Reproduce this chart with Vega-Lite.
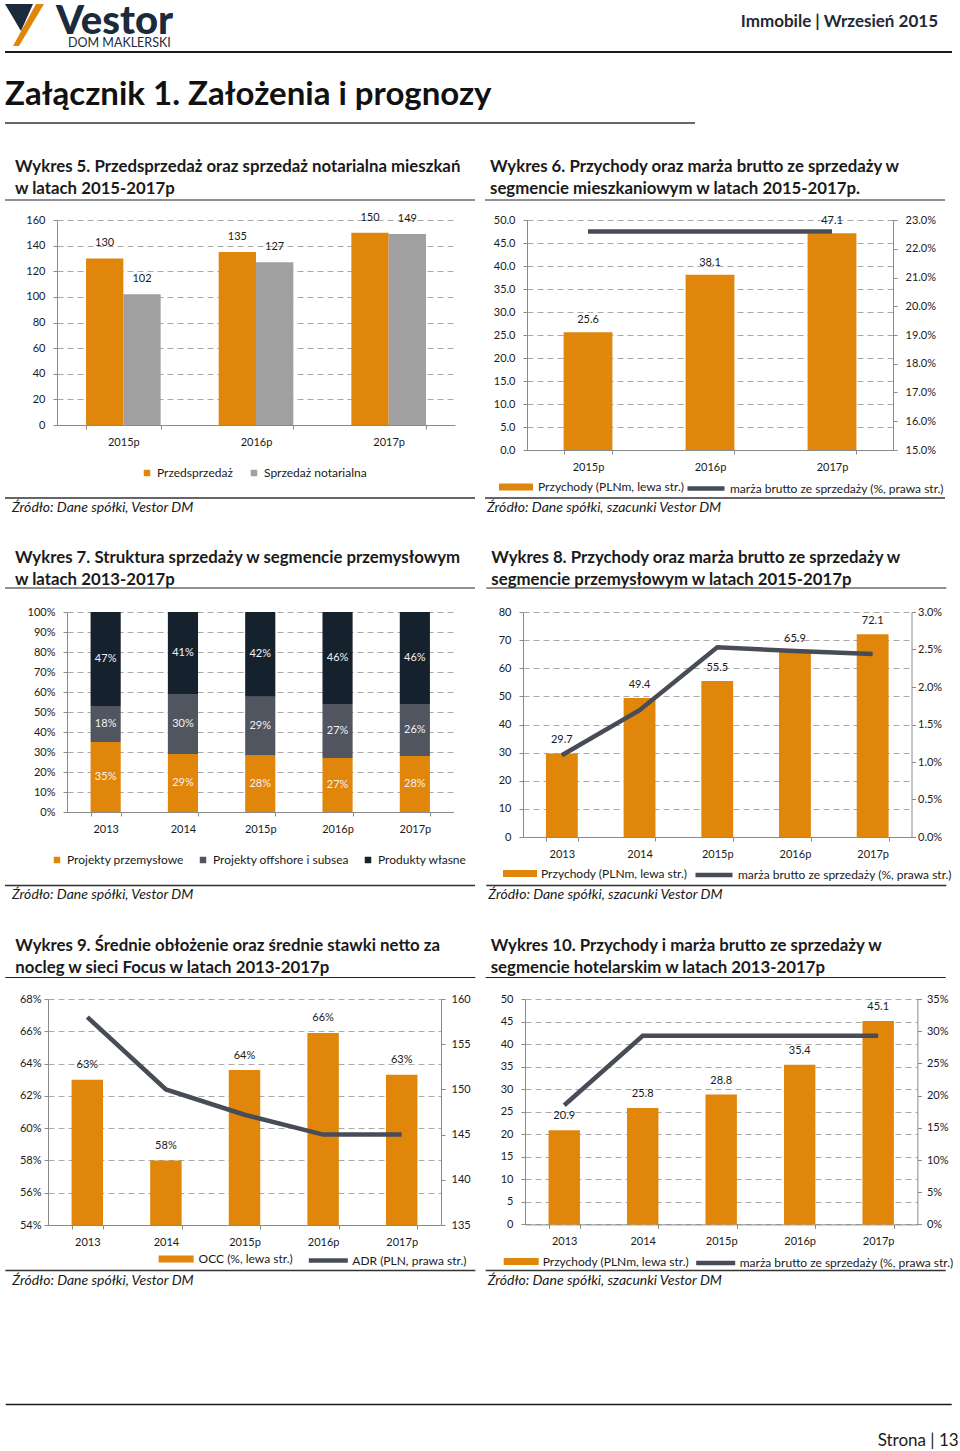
{
"$schema": "https://vega.github.io/schema/vega-lite/v6.json",
"background": "white",
"padding": 0,
"autosize": {"type": "pad"},
"config": {
 "view": {"stroke": null},
 "font": "Lato",
 "axis": {"labelFont": "Lato", "labelFontSize": 11, "labelColor": "#1a1a1a", "domainColor": "#8a8a8a", "tickColor": "#8a8a8a", "tickSize": 4, "gridColor": "#a8a8a8", "gridDash": [6, 4], "labelOverlap": false},
 "axisX": {"labelAngle": 0, "tickBand": "extent", "labelPadding": 7, "grid": false},
 "axisY": {"labelPadding": 8, "tickCount": 50},
 "legend": {"labelFont": "Lato", "labelFontSize": 12, "labelColor": "#1a1a1a", "padding": 0, "labelLimit": 400},
 "title": {"font": "Lato", "fontWeight": "bold", "fontSize": 16.8, "anchor": "start", "frame": "group", "color": "#1a1a1a", "lineHeight": 22, "offset": 3},
 "text": {"font": "Lato"}
},
"resolve": {"scale": {"x": "independent", "y": "independent", "color": "independent", "stroke": "independent", "xOffset": "independent"}, "legend": {"color": "independent", "stroke": "independent"}, "axis": {"x": "independent", "y": "independent"}},
"vconcat": [
 {
  "width": 960, "height": 57.5,
  "data": {"values": [{}]},
  "layer": [
   {"mark": {"type": "point", "shape": "M-0.957,-0.913L0.261,-0.913L-0.261,0.261Z", "size": 2116, "filled": true, "fill": "#1B2B3C", "strokeWidth": 0, "opacity": 1}, "encoding": {"x": {"value": 27}, "y": {"value": 25}}},
   {"mark": {"type": "point", "shape": "M0.391,-0.913L0.739,-0.913L-0.348,0.913L-0.609,0.913Z", "size": 2116, "filled": true, "fill": "#E0860B", "strokeWidth": 0, "opacity": 1}, "encoding": {"x": {"value": 27}, "y": {"value": 25}}},
   {"mark": {"type": "text", "text": "Vestor", "fontWeight": 900, "fontSize": 40, "color": "#1B2B3C", "align": "left", "baseline": "alphabetic"}, "encoding": {"x": {"value": 56}, "y": {"value": 34}}},
   {"mark": {"type": "text", "text": "DOM MAKLERSKI", "fontSize": 12.5, "color": "#1B2B3C", "align": "left", "baseline": "alphabetic"}, "encoding": {"x": {"value": 68}, "y": {"value": 47}}},
   {"mark": {"type": "text", "text": "Immobile | Wrzesień 2015", "fontWeight": "bold", "fontSize": 17, "color": "#1F2A36", "align": "right", "baseline": "middle"}, "encoding": {"x": {"value": 938}, "y": {"value": 22}}},
   {"mark": {"type": "rule", "color": "#1a1a1a", "strokeWidth": 2.2}, "encoding": {"x": {"value": 5}, "x2": {"value": 952}, "y": {"value": 52}}},
   {"mark": {"type": "text", "text": "Załącznik 1. Założenia i prognozy", "fontWeight": "bold", "fontSize": 33, "color": "#111111", "align": "left", "baseline": "middle"}, "encoding": {"x": {"value": 5}, "y": {"value": 95}}},
   {"mark": {"type": "rule", "color": "#333333", "strokeWidth": 1.5}, "encoding": {"x": {"value": 5}, "x2": {"value": 695}, "y": {"value": 123}}}
  ]
 },
 {"width": 1, "height": 162, "data": {"values": []}, "mark": "point"},
 {
  "hconcat": [
   {"width": 57, "height": 230, "data": {"values": []}, "mark": "point"},
   {
    "width": 398, "height": 205,
    "title": {"text": ["Wykres 5. Przedsprzedaż oraz sprzedaż notarialna mieszkań", "w latach 2015-2017p"], "dx": -42, "dy": 1},
    "data": {"values": [
     {"rok": "2015p", "seria": "Przedsprzedaż", "wartosc": 130},
     {"rok": "2015p", "seria": "Sprzedaż notarialna", "wartosc": 102},
     {"rok": "2016p", "seria": "Przedsprzedaż", "wartosc": 135},
     {"rok": "2016p", "seria": "Sprzedaż notarialna", "wartosc": 127},
     {"rok": "2017p", "seria": "Przedsprzedaż", "wartosc": 150},
     {"rok": "2017p", "seria": "Sprzedaż notarialna", "wartosc": 149}
    ]},
    "layer": [
     {"mark": {"type": "bar"}, "encoding": {
      "x": {"field": "rok", "type": "nominal", "sort": null, "scale": {"paddingInner": 0.4375, "paddingOuter": 0.21875}, "axis": {"title": null}},
      "xOffset": {"field": "seria", "type": "nominal", "sort": ["Przedsprzedaż", "Sprzedaż notarialna"]},
      "y": {"field": "wartosc", "type": "quantitative", "scale": {"domain": [0, 160]}, "axis": {"title": null, "tickCount": 50, "format": "d", "values": [0, 20, 40, 60, 80, 100, 120, 140, 160]}},
      "color": {"field": "seria", "type": "nominal", "sort": ["Przedsprzedaż", "Sprzedaż notarialna"], "scale": {"range": ["#E0860B", "#A0A0A0"]}, "legend": {"title": null, "orient": "none", "legendX": 84, "legendY": 247, "direction": "horizontal", "symbolType": "square", "symbolSize": 42, "labelOffset": 4, "columnPadding": 15}}
     }},
     {"mark": {"type": "text", "baseline": "middle", "dy": -15, "fontSize": 11, "color": "#1a1a1a"}, "encoding": {
      "x": {"field": "rok", "type": "nominal", "sort": null},
      "xOffset": {"field": "seria", "type": "nominal", "sort": ["Przedsprzedaż", "Sprzedaż notarialna"]},
      "y": {"field": "wartosc", "type": "quantitative"},
      "text": {"field": "wartosc", "type": "quantitative", "format": "d"}
     }},
     {"data": {"values": [{}]}, "mark": {"type": "rule", "color": "#222222", "strokeWidth": 1}, "encoding": {"x": {"value": -52}, "x2": {"value": 418}, "y": {"value": -20}}},
     {"data": {"values": [{}]}, "mark": {"type": "rule", "color": "#333333", "strokeWidth": 1.5}, "encoding": {"x": {"value": -52}, "x2": {"value": 418}, "y": {"value": 278}}},
     {"data": {"values": [{}]}, "mark": {"type": "text", "text": "Źródło: Dane spółki, Vestor DM", "fontStyle": "italic", "fontSize": 14, "align": "left", "baseline": "middle", "color": "#1a1a1a"}, "encoding": {"x": {"value": -45}, "y": {"value": 287.5}}}
    ]
   },
   {"width": 72, "height": 230, "data": {"values": []}, "mark": "point"},
   {
    "width": 366, "height": 230,
    "title": {"text": ["Wykres 6. Przychody oraz marża brutto ze sprzedaży w", "segmencie mieszkaniowym w latach 2015-2017p."], "dx": -37, "dy": 1},
    "data": {"values": [
     {"rok": "2015p", "przychody": 25.6, "marza": 0.226},
     {"rok": "2016p", "przychody": 38.1, "marza": 0.226},
     {"rok": "2017p", "przychody": 47.1, "marza": 0.226}
    ]},
    "layer": [
     {"layer": [
      {"mark": {"type": "bar"}, "encoding": {
       "x": {"field": "rok", "type": "nominal", "sort": null, "scale": {"paddingInner": 0.6, "paddingOuter": 0.3}, "axis": {"title": null}},
       "y": {"field": "przychody", "type": "quantitative", "scale": {"domain": [0, 50]}, "axis": {"title": null, "orient": "left", "tickCount": 50, "values": [0, 5, 10, 15, 20, 25, 30, 35, 40, 45, 50], "format": ".1f"}},
       "color": {"datum": "Przychody (PLNm, lewa str.)", "scale": {"range": ["#E0860B"]}, "legend": {"title": null, "orient": "none", "legendX": -29, "legendY": 249, "symbolType": "M-1,-0.2H1V0.2H-1Z", "symbolSize": 1156, "labelOffset": 4}}
      }},
      {"mark": {"type": "text", "baseline": "middle", "dy": -12, "fontSize": 11, "color": "#1a1a1a"}, "encoding": {
       "x": {"field": "rok", "type": "nominal", "sort": null},
       "y": {"field": "przychody", "type": "quantitative"},
       "text": {"field": "przychody", "type": "quantitative", "format": ".1f"}
      }},
      {"data": {"values": [{}]}, "mark": {"type": "rule", "color": "#222222", "strokeWidth": 1}, "encoding": {"x": {"value": -42}, "x2": {"value": 418}, "y": {"value": -20}}},
      {"data": {"values": [{}]}, "mark": {"type": "rule", "color": "#333333", "strokeWidth": 1.5}, "encoding": {"x": {"value": -42}, "x2": {"value": 418}, "y": {"value": 278}}},
      {"data": {"values": [{}]}, "mark": {"type": "text", "text": "Źródło: Dane spółki, szacunki Vestor DM", "fontStyle": "italic", "fontSize": 14, "align": "left", "baseline": "middle", "color": "#1a1a1a"}, "encoding": {"x": {"value": -40}, "y": {"value": 287.5}}}
     ]},
     {"mark": {"type": "line", "strokeWidth": 4.5, "strokeCap": "butt"}, "encoding": {
      "x": {"field": "rok", "type": "nominal", "sort": null},
      "y": {"field": "marza", "type": "quantitative", "scale": {"domain": [0.15, 0.23]}, "axis": {"title": null, "orient": "right", "grid": false, "tickCount": 50, "values": [0.15, 0.16, 0.17, 0.18, 0.19, 0.2, 0.21, 0.22, 0.23], "format": ".1%"}},
      "stroke": {"datum": "marża brutto ze sprzedaży (%, prawa str.)", "scale": {"range": ["#474C57"]}, "legend": {"title": null, "orient": "none", "legendX": 158, "legendY": 247.5, "symbolType": "stroke", "symbolSize": 1369, "symbolStrokeWidth": 4.5, "labelOffset": 3}}
     }}
    ],
    "resolve": {"scale": {"y": "independent"}}
   }
  ],
  "spacing": 0,
  "bounds": "flush",
  "resolve": {"scale": {"x": "independent", "y": "independent", "color": "independent", "stroke": "independent", "xOffset": "independent"}, "legend": {"color": "independent", "stroke": "independent"}}
 },
 {"width": 1, "height": 392, "data": {"values": []}, "mark": "point"},
 {
  "hconcat": [
   {"width": 67, "height": 225, "data": {"values": []}, "mark": "point"},
   {
    "width": 386.5, "height": 200,
    "title": {"text": ["Wykres 7. Struktura sprzedaży w segmencie przemysłowym", "w latach 2013-2017p"], "dx": -52, "dy": 4.5},
    "data": {"values": [
     {"rok": "2013", "seria": "Projekty przemysłowe", "nr": 1, "udzial": 0.35},
     {"rok": "2013", "seria": "Projekty offshore i subsea", "nr": 2, "udzial": 0.18},
     {"rok": "2013", "seria": "Produkty własne", "nr": 3, "udzial": 0.47},
     {"rok": "2014", "seria": "Projekty przemysłowe", "nr": 1, "udzial": 0.29},
     {"rok": "2014", "seria": "Projekty offshore i subsea", "nr": 2, "udzial": 0.30},
     {"rok": "2014", "seria": "Produkty własne", "nr": 3, "udzial": 0.41},
     {"rok": "2015p", "seria": "Projekty przemysłowe", "nr": 1, "udzial": 0.28},
     {"rok": "2015p", "seria": "Projekty offshore i subsea", "nr": 2, "udzial": 0.29},
     {"rok": "2015p", "seria": "Produkty własne", "nr": 3, "udzial": 0.42},
     {"rok": "2016p", "seria": "Projekty przemysłowe", "nr": 1, "udzial": 0.27},
     {"rok": "2016p", "seria": "Projekty offshore i subsea", "nr": 2, "udzial": 0.27},
     {"rok": "2016p", "seria": "Produkty własne", "nr": 3, "udzial": 0.46},
     {"rok": "2017p", "seria": "Projekty przemysłowe", "nr": 1, "udzial": 0.28},
     {"rok": "2017p", "seria": "Projekty offshore i subsea", "nr": 2, "udzial": 0.26},
     {"rok": "2017p", "seria": "Produkty własne", "nr": 3, "udzial": 0.46}
    ]},
    "layer": [
     {"mark": {"type": "bar"}, "encoding": {
      "x": {"field": "rok", "type": "nominal", "sort": null, "scale": {"paddingInner": 0.61, "paddingOuter": 0.305}, "axis": {"title": null}},
      "y": {"field": "udzial", "type": "quantitative", "stack": "normalize", "scale": {"domain": [0, 1]}, "axis": {"title": null, "tickCount": 50, "values": [0, 0.1, 0.2, 0.3, 0.4, 0.5, 0.6, 0.7, 0.8, 0.9, 1], "format": ".0%"}},
      "order": {"field": "nr", "type": "quantitative", "sort": "ascending"},
      "color": {"field": "seria", "type": "nominal", "sort": ["Projekty przemysłowe", "Projekty offshore i subsea", "Produkty własne"], "scale": {"range": ["#E0860B", "#50555F", "#16212E"]}, "legend": {"title": null, "orient": "none", "legendX": -16, "legendY": 242, "direction": "horizontal", "symbolType": "square", "symbolSize": 42, "labelOffset": 4, "columnPadding": 13}}
     }},
     {"mark": {"type": "text", "baseline": "middle", "fontSize": 11, "color": "#F2F2F2"}, "encoding": {
      "x": {"field": "rok", "type": "nominal", "sort": null},
      "y": {"field": "udzial", "type": "quantitative", "stack": "normalize", "bandPosition": 0.5},
      "detail": {"field": "seria", "type": "nominal"},
      "order": {"field": "nr", "type": "quantitative", "sort": "ascending"},
      "text": {"field": "udzial", "type": "quantitative", "format": ".0%"}
     }},
     {"data": {"values": [{}]}, "mark": {"type": "rule", "color": "#222222", "strokeWidth": 1}, "encoding": {"x": {"value": -62}, "x2": {"value": 408}, "y": {"value": -24}}},
     {"data": {"values": [{}]}, "mark": {"type": "rule", "color": "#333333", "strokeWidth": 1.5}, "encoding": {"x": {"value": -62}, "x2": {"value": 408}, "y": {"value": 273.5}}},
     {"data": {"values": [{}]}, "mark": {"type": "text", "text": "Źródło: Dane spółki, Vestor DM", "fontStyle": "italic", "fontSize": 14, "align": "left", "baseline": "middle", "color": "#1a1a1a"}, "encoding": {"x": {"value": -55}, "y": {"value": 282.5}}}
    ]
   },
   {"width": 68.2, "height": 225, "data": {"values": []}, "mark": "point"},
   {
    "width": 388.5, "height": 225,
    "title": {"text": ["Wykres 8. Przychody oraz marża brutto ze sprzedaży w", "segmencie przemysłowym w latach 2015-2017p"], "dx": -31.7, "dy": 4.5},
    "data": {"values": [
     {"rok": "2013", "przychody": 29.7, "marza": 0.0109},
     {"rok": "2014", "przychody": 49.4, "marza": 0.0169},
     {"rok": "2015p", "przychody": 55.5, "marza": 0.0253},
     {"rok": "2016p", "przychody": 65.9, "marza": 0.0248},
     {"rok": "2017p", "przychody": 72.1, "marza": 0.0244}
    ]},
    "layer": [
     {"layer": [
      {"mark": {"type": "bar"}, "encoding": {
       "x": {"field": "rok", "type": "nominal", "sort": null, "scale": {"paddingInner": 0.59, "paddingOuter": 0.295}, "axis": {"title": null}},
       "y": {"field": "przychody", "type": "quantitative", "scale": {"domain": [0, 80]}, "axis": {"title": null, "orient": "left", "tickCount": 50, "format": "d", "values": [0, 10, 20, 30, 40, 50, 60, 70, 80]}},
       "color": {"datum": "Przychody (PLNm, lewa str.)", "scale": {"range": ["#E0860B"]}, "legend": {"title": null, "orient": "none", "legendX": -21, "legendY": 243.5, "symbolType": "M-1,-0.2H1V0.2H-1Z", "symbolSize": 1156, "labelOffset": 3}}
      }},
      {"mark": {"type": "text", "baseline": "middle", "dy": -13, "fontSize": 11, "color": "#1a1a1a"}, "encoding": {
       "x": {"field": "rok", "type": "nominal", "sort": null},
       "y": {"field": "przychody", "type": "quantitative"},
       "text": {"field": "przychody", "type": "quantitative", "format": ".1f"}
      }},
      {"data": {"values": [{}]}, "mark": {"type": "rule", "color": "#222222", "strokeWidth": 1}, "encoding": {"x": {"value": -36.7}, "x2": {"value": 423.3}, "y": {"value": -24}}},
      {"data": {"values": [{}]}, "mark": {"type": "rule", "color": "#333333", "strokeWidth": 1.5}, "encoding": {"x": {"value": -36.7}, "x2": {"value": 423.3}, "y": {"value": 273.5}}},
      {"data": {"values": [{}]}, "mark": {"type": "text", "text": "Źródło: Dane spółki, szacunki Vestor DM", "fontStyle": "italic", "fontSize": 14, "align": "left", "baseline": "middle", "color": "#1a1a1a"}, "encoding": {"x": {"value": -34.7}, "y": {"value": 282.5}}}
     ]},
     {"mark": {"type": "line", "strokeWidth": 4.5, "strokeCap": "butt"}, "encoding": {
      "x": {"field": "rok", "type": "nominal", "sort": null},
      "y": {"field": "marza", "type": "quantitative", "scale": {"domain": [0, 0.03]}, "axis": {"title": null, "orient": "right", "grid": false, "labelPadding": 2, "tickCount": 50, "values": [0, 0.005, 0.01, 0.015, 0.02, 0.025, 0.03], "format": ".1%"}},
      "stroke": {"datum": "marża brutto ze sprzedaży (%, prawa str.)", "scale": {"range": ["#474C57"]}, "legend": {"title": null, "orient": "none", "legendX": 170, "legendY": 242, "symbolType": "stroke", "symbolSize": 1369, "symbolStrokeWidth": 4.5, "labelOffset": 3}}
     }}
    ],
    "resolve": {"scale": {"y": "independent"}}
   }
  ],
  "spacing": 0,
  "bounds": "flush",
  "resolve": {"scale": {"x": "independent", "y": "independent", "color": "independent", "stroke": "independent"}, "legend": {"color": "independent", "stroke": "independent"}}
 },
 {"width": 1, "height": 387, "data": {"values": []}, "mark": "point"},
 {
  "hconcat": [
   {"width": 47.7, "height": 226, "data": {"values": []}, "mark": "point"},
   {
    "width": 393, "height": 226,
    "title": {"text": ["Wykres 9. Średnie obłożenie oraz średnie stawki netto za", "nocleg w sieci Focus w latach 2013-2017p"], "dx": -32.7, "dy": 3},
    "data": {"values": [
     {"rok": "2013", "occ": 0.630, "adr": 158.0},
     {"rok": "2014", "occ": 0.580, "adr": 150.0},
     {"rok": "2015p", "occ": 0.636, "adr": 147.2},
     {"rok": "2016p", "occ": 0.659, "adr": 145.0},
     {"rok": "2017p", "occ": 0.633, "adr": 145.0}
    ]},
    "layer": [
     {"layer": [
      {"mark": {"type": "bar"}, "encoding": {
       "x": {"field": "rok", "type": "nominal", "sort": null, "scale": {"paddingInner": 0.6, "paddingOuter": 0.3}, "axis": {"title": null}},
       "y": {"field": "occ", "type": "quantitative", "scale": {"domain": [0.54, 0.68], "zero": false}, "axis": {"title": null, "orient": "left", "labelPadding": 3, "tickCount": 50, "values": [0.54, 0.56, 0.58, 0.6, 0.62, 0.64, 0.66, 0.68], "format": ".0%"}},
       "y2": {"datum": 0.54},
       "color": {"datum": "OCC (%, lewa str.)", "scale": {"range": ["#E0860B"]}, "legend": {"title": null, "orient": "none", "legendX": 109.6, "legendY": 241.5, "symbolType": "M-1,-0.2H1V0.2H-1Z", "symbolSize": 1225, "labelOffset": 4}}
      }},
      {"mark": {"type": "text", "baseline": "middle", "dy": -14.5, "fontSize": 11, "color": "#1a1a1a"}, "encoding": {
       "x": {"field": "rok", "type": "nominal", "sort": null},
       "y": {"field": "occ", "type": "quantitative"},
       "text": {"field": "occ", "type": "quantitative", "format": ".0%"}
      }},
      {"data": {"values": [{}]}, "mark": {"type": "rule", "color": "#222222", "strokeWidth": 1}, "encoding": {"x": {"value": -42.7}, "x2": {"value": 427.3}, "y": {"value": -21.5}}},
      {"data": {"values": [{}]}, "mark": {"type": "rule", "color": "#333333", "strokeWidth": 1.5}, "encoding": {"x": {"value": -42.7}, "x2": {"value": 427.3}, "y": {"value": 271.5}}},
      {"data": {"values": [{}]}, "mark": {"type": "text", "text": "Źródło: Dane spółki, Vestor DM", "fontStyle": "italic", "fontSize": 14, "align": "left", "baseline": "middle", "color": "#1a1a1a"}, "encoding": {"x": {"value": -35.7}, "y": {"value": 281.5}}}
     ]},
     {"mark": {"type": "line", "strokeWidth": 4.5, "strokeCap": "butt"}, "encoding": {
      "x": {"field": "rok", "type": "nominal", "sort": null},
      "y": {"field": "adr", "type": "quantitative", "scale": {"domain": [135, 160], "zero": false}, "axis": {"title": null, "orient": "right", "grid": false, "labelPadding": 6, "tickCount": 50, "format": "d", "values": [135, 140, 145, 150, 155, 160]}},
      "stroke": {"datum": "ADR (PLN, prawa str.)", "scale": {"range": ["#474C57"]}, "legend": {"title": null, "orient": "none", "legendX": 258.3, "legendY": 239.5, "symbolType": "stroke", "symbolSize": 1521, "symbolStrokeWidth": 4.5, "labelOffset": 2}}
     }}
    ],
    "resolve": {"scale": {"y": "independent"}}
   },
   {"width": 83.6, "height": 226, "data": {"values": []}, "mark": "point"},
   {
    "width": 392.4, "height": 225.4,
    "title": {"text": ["Wykres 10. Przychody i marża brutto ze sprzedaży w", "segmencie hotelarskim w latach 2013-2017p"], "dx": -34.3, "dy": 3},
    "data": {"values": [
     {"rok": "2013", "przychody": 20.9, "marza": 0.185},
     {"rok": "2014", "przychody": 25.8, "marza": 0.293},
     {"rok": "2015p", "przychody": 28.8, "marza": 0.293},
     {"rok": "2016p", "przychody": 35.4, "marza": 0.293},
     {"rok": "2017p", "przychody": 45.1, "marza": 0.293}
    ]},
    "layer": [
     {"layer": [
      {"mark": {"type": "bar"}, "encoding": {
       "x": {"field": "rok", "type": "nominal", "sort": null, "scale": {"paddingInner": 0.6, "paddingOuter": 0.3}, "axis": {"title": null}},
       "y": {"field": "przychody", "type": "quantitative", "scale": {"domain": [0, 50]}, "axis": {"title": null, "orient": "left", "tickCount": 50, "format": "d", "values": [0, 5, 10, 15, 20, 25, 30, 35, 40, 45, 50]}},
       "color": {"datum": "Przychody (PLNm, lewa str.)", "scale": {"range": ["#E0860B"]}, "legend": {"title": null, "orient": "none", "legendX": -22.3, "legendY": 244, "symbolType": "M-1,-0.2H1V0.2H-1Z", "symbolSize": 1225, "labelOffset": 3}}
      }},
      {"mark": {"type": "text", "baseline": "middle", "dy": -14, "fontSize": 11, "color": "#1a1a1a"}, "encoding": {
       "x": {"field": "rok", "type": "nominal", "sort": null},
       "y": {"field": "przychody", "type": "quantitative"},
       "text": {"field": "przychody", "type": "quantitative", "format": ".1f"}
      }},
      {"data": {"values": [{}]}, "mark": {"type": "rule", "color": "#222222", "strokeWidth": 1}, "encoding": {"x": {"value": -39.3}, "x2": {"value": 420.7}, "y": {"value": -21.5}}},
      {"data": {"values": [{}]}, "mark": {"type": "rule", "color": "#333333", "strokeWidth": 1.5}, "encoding": {"x": {"value": -39.3}, "x2": {"value": 420.7}, "y": {"value": 271.5}}},
      {"data": {"values": [{}]}, "mark": {"type": "text", "text": "Źródło: Dane spółki, szacunki Vestor DM", "fontStyle": "italic", "fontSize": 14, "align": "left", "baseline": "middle", "color": "#1a1a1a"}, "encoding": {"x": {"value": -37.3}, "y": {"value": 281.5}}},
      {"data": {"values": [{}]}, "mark": {"type": "rule", "color": "#1a1a1a", "strokeWidth": 1.5}, "encoding": {"x": {"value": -519.3}, "x2": {"value": 426.7}, "y": {"value": 405.5}}},
      {"data": {"values": [{}]}, "mark": {"type": "text", "text": "Strona | 13", "fontSize": 17, "align": "right", "baseline": "middle", "color": "#1a1a1a"}, "encoding": {"x": {"value": 433.7}, "y": {"value": 441.5}}}
     ]},
     {"mark": {"type": "line", "strokeWidth": 4.5, "strokeCap": "butt"}, "encoding": {
      "x": {"field": "rok", "type": "nominal", "sort": null},
      "y": {"field": "marza", "type": "quantitative", "scale": {"domain": [0, 0.35]}, "axis": {"title": null, "orient": "right", "grid": false, "labelPadding": 5, "tickCount": 50, "values": [0, 0.05, 0.1, 0.15, 0.2, 0.25, 0.3, 0.35], "format": ".0%"}},
      "stroke": {"datum": "marża brutto ze sprzedaży (%, prawa str.)", "scale": {"range": ["#474C57"]}, "legend": {"title": null, "orient": "none", "legendX": 168.7, "legendY": 242, "symbolType": "stroke", "symbolSize": 1521, "symbolStrokeWidth": 4.5, "labelOffset": 2}}
     }}
    ],
    "resolve": {"scale": {"y": "independent"}}
   }
  ],
  "spacing": 0,
  "bounds": "flush",
  "resolve": {"scale": {"x": "independent", "y": "independent", "color": "independent", "stroke": "independent"}, "legend": {"color": "independent", "stroke": "independent"}}
 }
],
"spacing": 0,
"bounds": "flush"
}
